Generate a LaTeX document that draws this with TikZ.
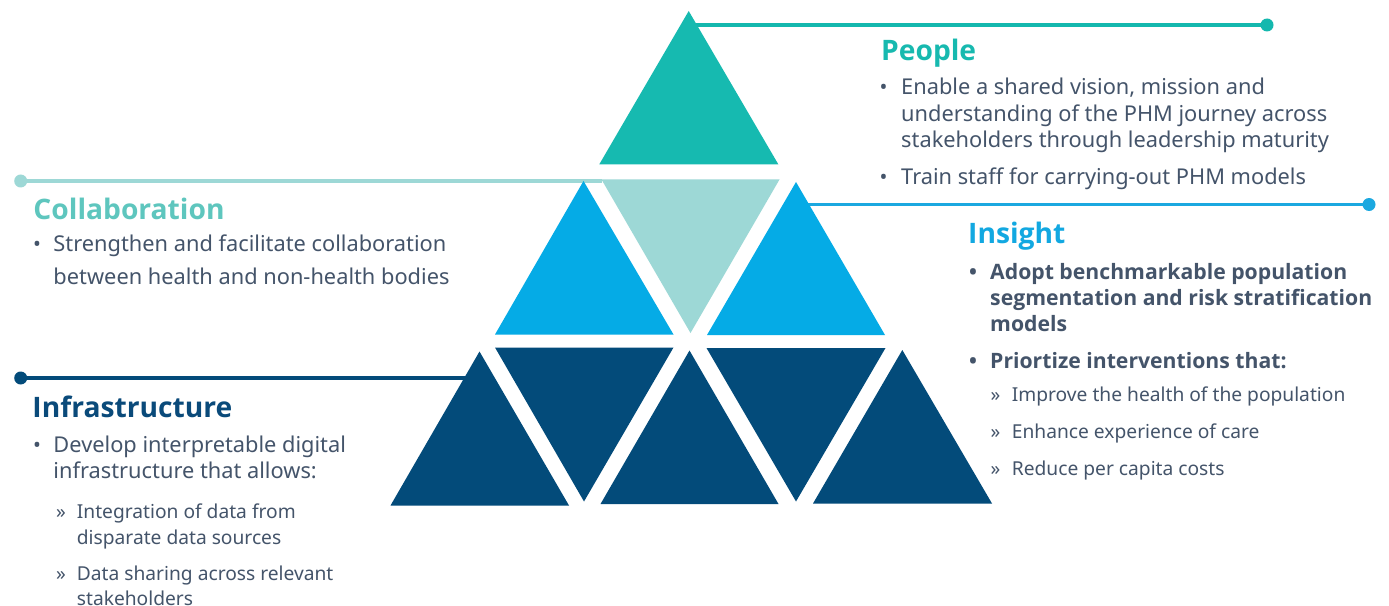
\documentclass[tikz,border=0pt]{standalone}
\usepackage{fontspec}
\setmainfont{Noto Sans}
\newfontfamily\bfam{Open Sans}
\definecolor{cTop}{HTML}{16BAB0}
\definecolor{cInv}{HTML}{9DD8D6}
\definecolor{cMid}{HTML}{05ABE6}
\definecolor{cNavy}{HTML}{034B7A}
\definecolor{lPeople}{HTML}{14B8AE}
\definecolor{lInsight}{HTML}{1BA8E0}
\definecolor{tPeople}{HTML}{17B9AF}
\definecolor{tCollab}{HTML}{5EC6BE}
\definecolor{tInsight}{HTML}{12A8E1}
\definecolor{tInfra}{HTML}{0A4A7A}
\definecolor{txt}{HTML}{44546A}
\tikzset{
  lnk/.style={line width=3.5bp},
  dotc/.style={circle, inner sep=0pt, minimum size=13bp, draw=none},
  ttl/.style={anchor=base west, inner sep=0pt, font=\bfam\bfseries\fontsize{28.2bp}{31bp}\selectfont},
  bdy/.style={anchor=base west, inner sep=0pt, text=txt, font=\fontsize{21.8bp}{25bp}\selectfont},
  bdyb/.style={anchor=base west, inner sep=0pt, text=txt, font=\bfam\bfseries\fontsize{21.2bp}{25bp}\selectfont},
  subt/.style={anchor=base west, inner sep=0pt, text=txt, font=\fontsize{19.2bp}{23bp}\selectfont},
  bul/.style={anchor=base, inner sep=0pt, text=txt, font=\fontsize{21bp}{25bp}\selectfont},
  bulb/.style={anchor=base, inner sep=0pt, text=txt, font=\bfam\bfseries\fontsize{21bp}{25bp}\selectfont},
}
\begin{document}
\begin{tikzpicture}[x=1bp,y=-1bp]
\useasboundingbox (0,0) rectangle (1389,606);
\fill[white] (0,0) rectangle (1389,606);

% connector end points
\coordinate (pA) at (688.7,25);
\coordinate (cA) at (602,181);
\coordinate (iA) at (796,204.5);
\coordinate (fA) at (479.5,378);
\node[dotc, fill=lPeople] (pDot) at (1267,25) {};
\node[dotc, fill=cInv] (cDot) at (20.7,181) {};
\node[dotc, fill=lInsight] (iDot) at (1369,204.5) {};
\node[dotc, fill=cNavy] (fDot) at (20.7,378) {};
\draw[lnk, lPeople] (pA) -- (pDot.center);
\draw[lnk, cInv] (cDot.center) -- (cA);
\draw[lnk, lInsight] (iA) -- (iDot.center);
\draw[lnk, cNavy] (fDot.center) -- (fA);

% pyramid
\fill[cTop] (688.7,11) -- (778.3,164.3) -- (599.3,164.3) -- cycle;
\fill[cInv] (601.5,179.5) -- (779.5,179.5) -- (690.5,333) -- cycle;
\fill[cMid] (583.5,181) -- (673.5,334.5) -- (495,334.5) -- cycle;
\fill[cMid] (796,182) -- (885,335) -- (707,335) -- cycle;
\fill[cNavy] (479.5,351.5) -- (569,505.5) -- (390.5,505.5) -- cycle;
\fill[cNavy] (495,347.5) -- (673.5,347.5) -- (584,501.5) -- cycle;
\fill[cNavy] (689.5,350.5) -- (778.5,504) -- (600.5,504) -- cycle;
\fill[cNavy] (706.5,348) -- (885.5,348) -- (796,501.5) -- cycle;
\fill[cNavy] (902.3,350) -- (992,503.5) -- (813,503.5) -- cycle;

% People
\node[ttl, text=tPeople] (pT) at (881,61) {People};
\node[bul] (pB1) at (883.6,95) {•};
\node[bdy] (pL1) at (901,95) {Enable a shared vision, mission and};
\node[bdy] (pL2) at (901,121.3) {\makebox[426bp][s]{understanding of the PHM journey across}};
\node[bdy] (pL3) at (901,147.6) {stakeholders through leadership maturity};
\node[bul] (pB2) at (883.6,185) {•};
\node[bdy] (pL4) at (901,185) {Train staff for carrying-out PHM models};

% Insight
\node[ttl, text=tInsight] (iT) at (968,243) {Insight};
\node[bulb] (iB1) at (973,279.3) {•};
\node[bdyb] (iL1) at (990,279.3) {Adopt benchmarkable population};
\node[bdyb] (iL2) at (990,305.5) {\makebox[382bp][s]{segmentation and risk stratification}};
\node[bdyb] (iL3) at (990,331.7) {models};
\node[bulb] (iB2) at (973,368.3) {•};
\node[bdyb] (iL4) at (990,368.3) {Priortize interventions that:};
\node[subt] (iS1m) at (990.5,401) {»};
\node[subt] (iS1) at (1011.7,401) {Improve the health of the population};
\node[subt] (iS2m) at (990.5,438.3) {»};
\node[subt] (iS2) at (1011.7,438.3) {Enhance experience of care};
\node[subt] (iS3m) at (990.5,475) {»};
\node[subt] (iS3) at (1011.7,475) {Reduce per capita costs};

% Collaboration
\node[ttl, text=tCollab] (cT) at (33.3,219.3) {Collaboration};
\node[bul] (cB1) at (37,251.7) {•};
\node[bdy] (cL1) at (53.3,251.7) {Strengthen and facilitate collaboration};
\node[bdy] (cL2) at (53.3,284) {between health and non-health bodies};

% Infrastructure
\node[ttl, text=tInfra] (fT) at (32.3,417.3) {Infrastructure};
\node[bul] (fB1) at (37,452.7) {•};
\node[bdy] (fL1) at (53.3,452.7) {Develop interpretable digital};
\node[bdy] (fL2) at (53.3,478.3) {infrastructure that allows:};
\node[subt] (fS1m) at (56,518.3) {»};
\node[subt] (fS1) at (76.7,518.3) {Integration of data from};
\node[subt] (fS1b) at (76.7,544) {disparate data sources};
\node[subt] (fS2m) at (56,580.7) {»};
\node[subt] (fS2) at (76.7,580.7) {Data sharing across relevant};
\node[subt] (fS2b) at (76.7,605.7) {stakeholders};
\end{tikzpicture}
\end{document}
